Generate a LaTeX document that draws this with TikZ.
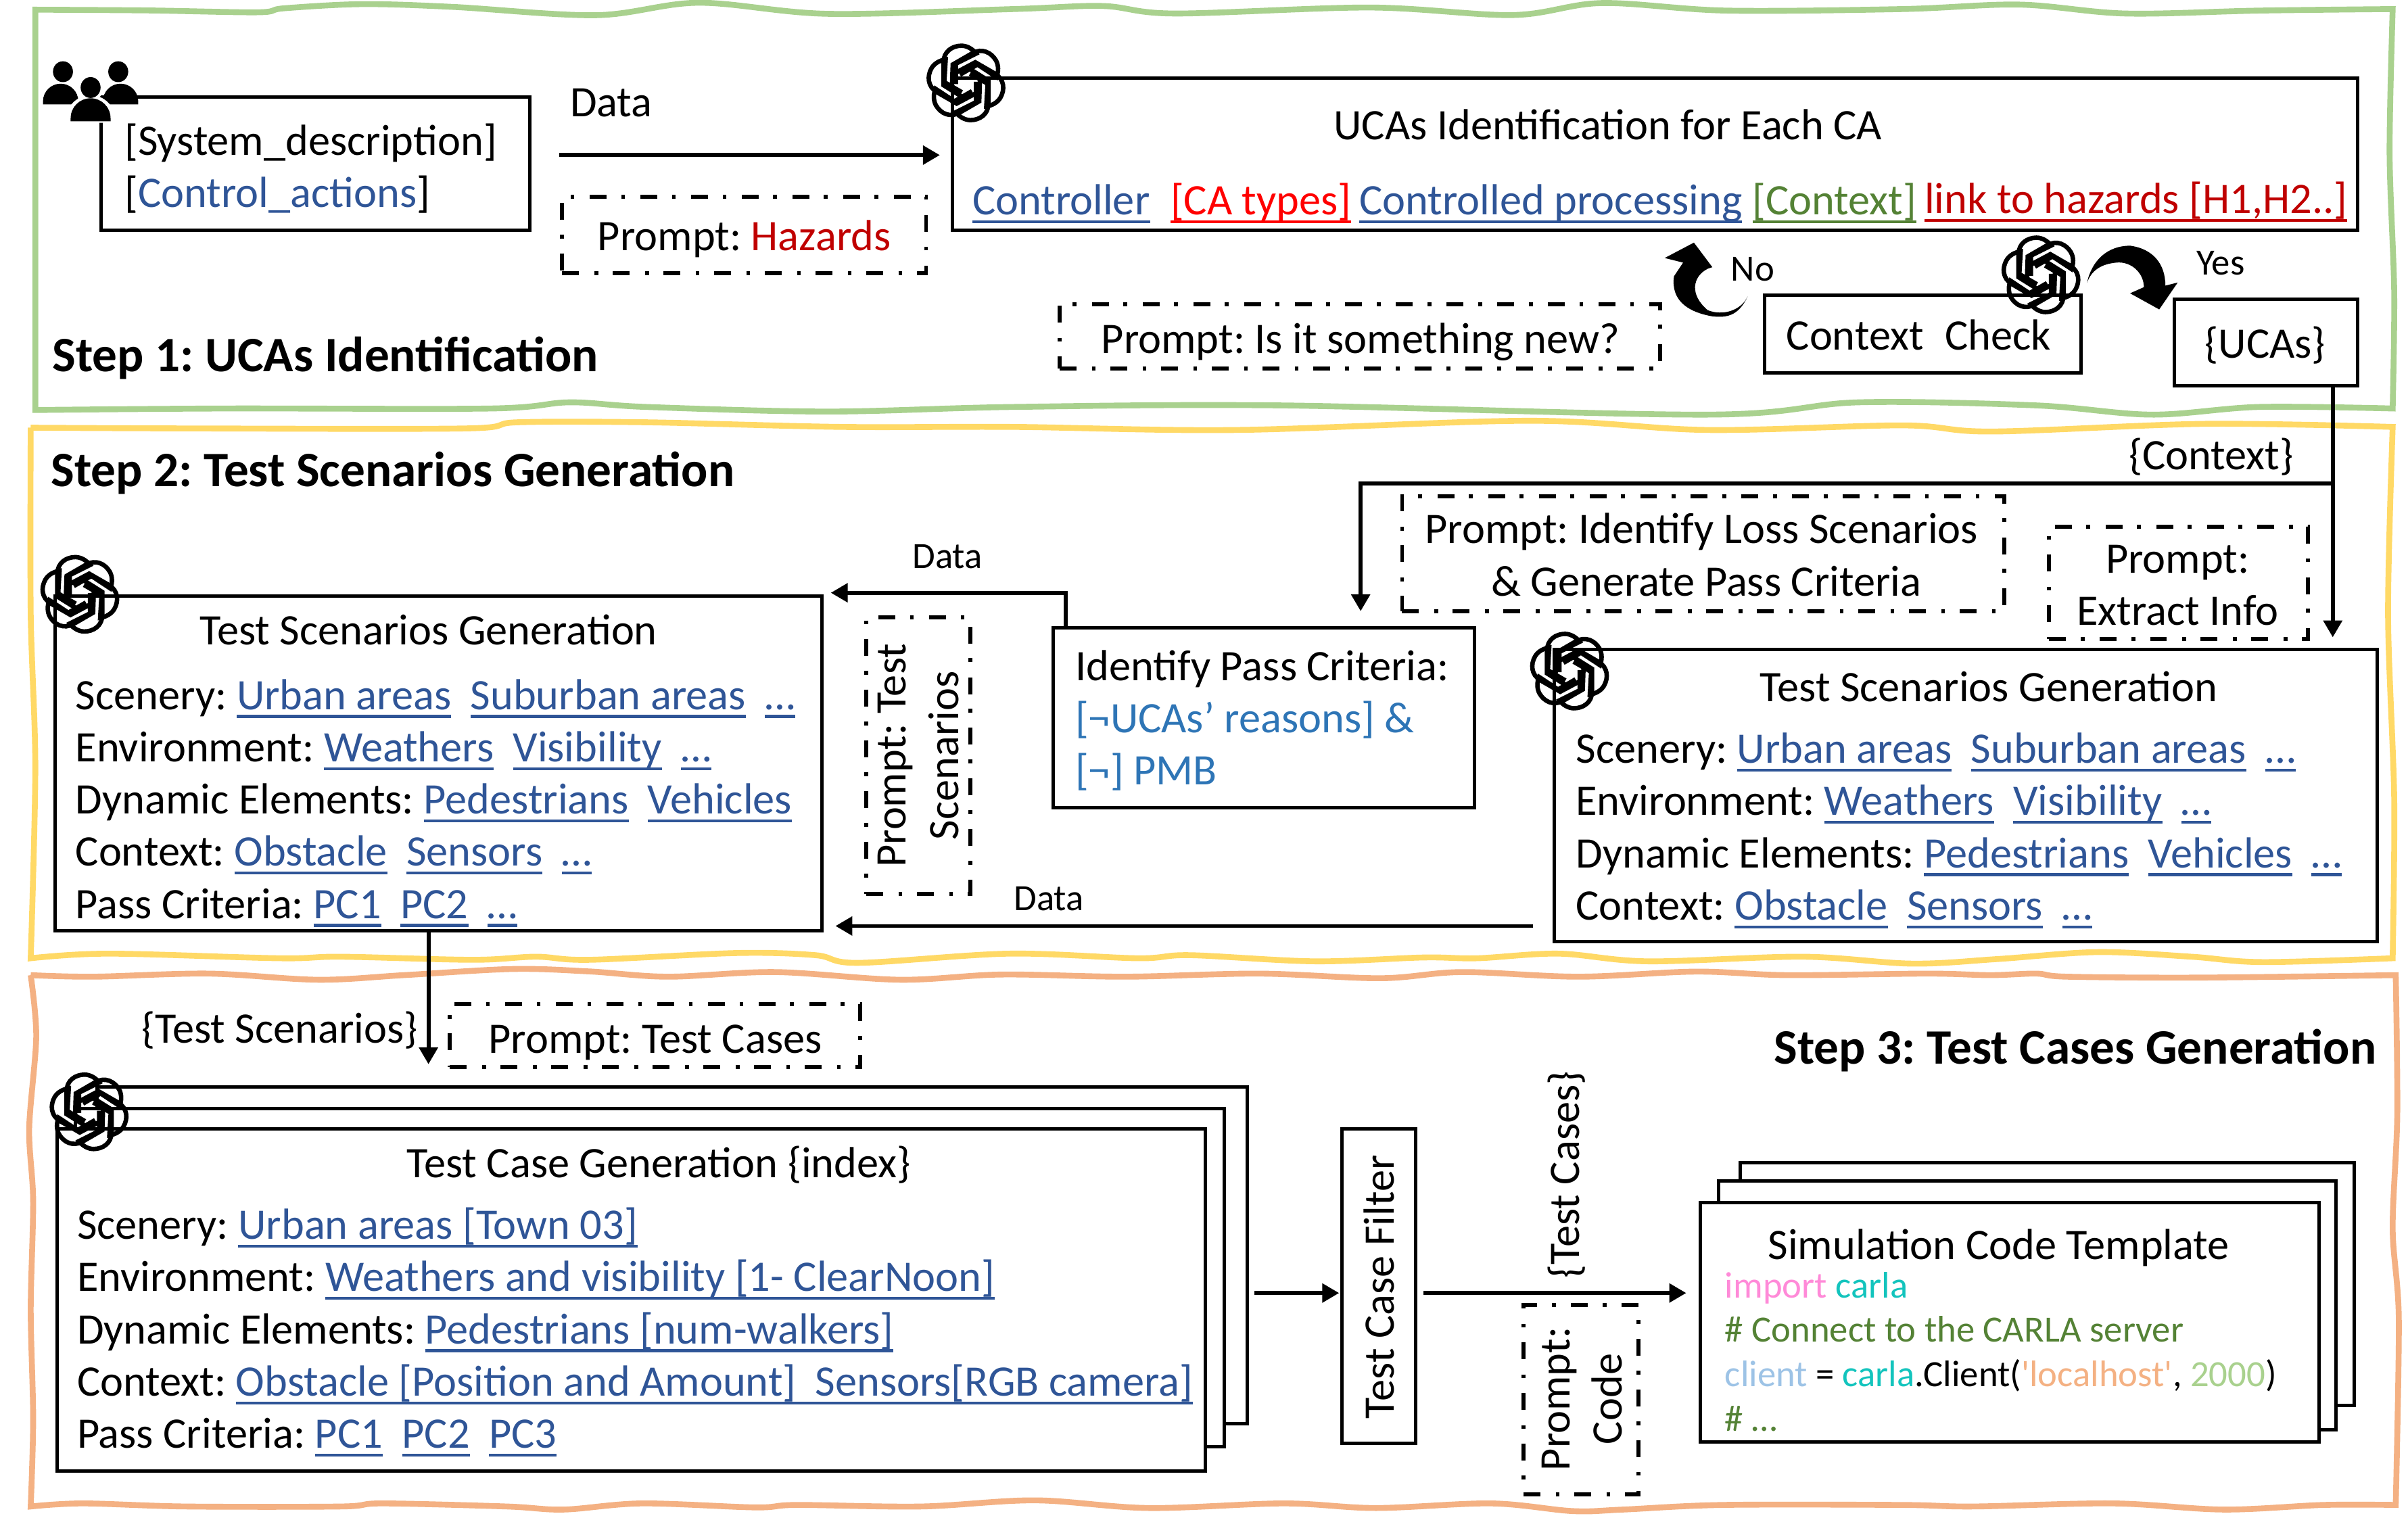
\documentclass[tikz,border=0pt]{standalone}
\usepackage{fontspec}
\setmainfont{Carlito}
\usetikzlibrary{arrows.meta,calc}
\frenchspacing
\newsavebox\ulbox
\newcommand{\myul}[1]{\sbox\ulbox{#1}\rlap{\rule[-5.5pt]{\wd\ulbox}{1.9pt}}\usebox\ulbox}
\definecolor{ublue}{HTML}{2F5597}
\definecolor{bblue}{HTML}{2E75B6}
\definecolor{dred}{HTML}{C00000}
\definecolor{cgreen}{HTML}{548235}
\definecolor{fgreen}{HTML}{A9D18E}
\definecolor{fyellow}{HTML}{FFD966}
\definecolor{forange}{HTML}{F4B183}
\definecolor{cpink}{HTML}{FF8AD8}
\definecolor{cteal}{HTML}{13C4BD}
\definecolor{clight}{HTML}{9DC3E6}
\newcommand{\ub}[1]{\textcolor{ublue}{\myul{#1}}}
\newcommand{\uc}[2]{\textcolor{#1}{\myul{#2}}}
\newcommand{\gp}{\hspace{12.5pt}}
\newcommand{\mybox}[6]{%
  \pgfmathsetmacro\bcx{(#3+#5)/2}\pgfmathsetmacro\bcy{(#4+#6)/2}%
  \pgfmathsetmacro\bw{#5-#3}\pgfmathsetmacro\bh{#6-#4}%
  \node[#1,minimum width=\bw pt,minimum height=\bh pt] (#2) at (\bcx,\bcy) {};}
\tikzset{
  x=1pt,y=-1pt,
  bx/.style={draw=black,line width=2.2pt,inner sep=0pt,outer sep=0pt,fill=white},
  pr/.style={draw=black,line width=2.6pt,inner sep=0pt,outer sep=0pt,
     dash pattern=on 11pt off 10pt on 2.5pt off 9.5pt},
  tx/.style={anchor=base west,inner sep=0pt,yshift=-1pt,font=\fontsize{28.35}{33}\selectfont},
  tc/.style={anchor=base,inner sep=0pt,yshift=-1pt,font=\fontsize{28.35}{33}\selectfont},
  tr/.style={anchor=center,inner sep=0pt,rotate=90,align=center,font=\fontsize{28.35}{34}\selectfont},
  sm/.style={anchor=base west,inner sep=0pt,font=\fontsize{24.1}{28}\selectfont},
  tb/.style={anchor=base west,inner sep=0pt,yshift=-1pt,font=\fontsize{32.25}{38}\bfseries\selectfont},
  fr/.style={line width=3.8pt,line join=miter},
  arr/.style={draw=black,line width=2.6pt,-{Triangle[length=11pt,width=12pt]}},
  logo/.pic={
    \foreach \a in {0,60,...,300}{
      \draw[rotate=\a,scale=.1468,line width=2.9pt,line join=miter]
        (-20,60) -- (-100,10) -- (-100,-90)
        .. controls (-100,-140) and (-60,-165) .. (-20,-165)
        .. controls (5,-165) and (30,-150) .. (45,-130)
        -- (-45,-85) -- (-45,5);
    }
  },
}
\begin{document}
\begin{tikzpicture}
\useasboundingbox (0,0) rectangle (1568,987);
\fill[white] (0,0) rectangle (1568,987);
% frames
\draw[fr,fgreen] plot[smooth,tension=.55] coordinates {(23,6.3)(97,6.8)(168,8)(185,5.4)(236,2.7)(295,4.5)(388,9.9)(455,1.8)(539,9)(660,5.9)(718,3.9)(765,8.8)(892,4.9)(985,9.8)(1043,2)(1124,6.9)(1239,5.9)(1315,3)(1384,8.8)(1471,6.9)(1558,5.9)}
  -- plot[smooth,tension=.5] coordinates {(1558,5.9)(1556,100)(1559,190)(1558,266)}
  -- plot[smooth,tension=.55] coordinates {(1558,266)(1471,265)(1401,270)(1326,264)(1210,262)(1112,270)(834,264)(660,265)(539,268)(421,265)(371,262)(320,266)(147,266)(23,267)}
  -- cycle;
\draw[fr,fyellow] plot[smooth,tension=.55] coordinates {(20,278.5)(126,279)(303,279)(337,275)(421,275)(548,278)(660,278)(805,280)(996,274)(1112,280)(1239,277)(1297,281)(1436,276)(1558,278)}
  -- plot[smooth,tension=.5] coordinates {(1558,278)(1555,400)(1559,520)(1558,624)}
  -- plot[smooth,tension=.55] coordinates {(1558,624)(1473,626.5)(1427,623)(1366,620)(1301,624.5)(1245,627.5)(1174,623)(1073,626)(1015,621)(962,624)(927,623.5)(856,626)(775,622)(741,624)(657,621)(559,627)(531,622)(480,620.6)(384,625)(349,623)(308,625)(222,623)(182,624)(71,621)(20,624)}
  -- plot[smooth,tension=.5] coordinates {(20,624)(23,500)(20,400)(20,278.5)};
\draw[fr,forange] plot[smooth,tension=.55] coordinates {(20,635)(61,636)(136,634)(207,638)(263,635)(334,631)(384,632.6)(435,636)(505,633)(586,638)(652,634.6)(733,636)(820,634)(899,637)(952,633)(1028,636)(1104,632.7)(1164,635)(1255,634)(1296,635)(1326,634)(1346,636)(1432,636.6)(1560,635)}
  -- plot[smooth,tension=.5] coordinates {(1560,635)(1561,726)(1558,800)(1562,859)(1560,980)}
  -- plot[smooth,tension=.55] coordinates {(1560,980)(1513,980)(1448,983)(1376,979)(1285,981)(1238,980)(1122,980)(1057,983)(1024,984)(971,979)(896,982)(836,979)(748,982)(674,977)(600,981)(519,980)(492,981.6)(418,979)(367,983)(330,981)(249,979)(222,981)(121,981)(54,979)(20,981)}
  -- plot[smooth,tension=.5] coordinates {(20,981)(21.6,924)(20,853)(21.6,782)(19,735)(23.6,675)(20,635)};
% boxes
\mybox{bx}{sys}{66}{63}{345}{150}
\mybox{bx}{uca}{620}{51}{1535}{150}
\mybox{bx}{cc}{1149}{192}{1355}{243}
\mybox{bx}{ucas}{1416}{195}{1535}{251}
\mybox{bx}{tsl}{36}{388}{535}{606}
\mybox{bx}{tsr}{1012}{423}{1548}{613}
\mybox{bx}{ipc}{686}{409}{960}{526}
\mybox{bx}{tc3}{63}{708}{812}{927}
\mybox{bx}{tc2}{49}{722}{797}{942}
\mybox{bx}{tc1}{37}{735}{785}{958}
\mybox{bx}{filt}{874}{735}{922}{940}
\mybox{bx}{sim3}{1133}{757}{1533}{915}
\mybox{bx}{sim2}{1119}{769}{1521}{931}
\mybox{bx}{sim1}{1107}{783}{1510}{939}
\mybox{pr}{pa}{366}{128}{603}{178}
\mybox{pr}{pb}{690}{198}{1081}{240}
\mybox{pr}{pc}{913}{323}{1305}{398}
\mybox{pr}{pd}{1334}{343}{1503}{416}
\mybox{pr}{pe}{564}{402}{632}{582}
\mybox{pr}{pf}{293}{654}{560}{695}
\mybox{pr}{pg}{992}{850}{1067}{973}
% connectors
\coordinate (s1) at (364,101);
\coordinate (j) at (1519,315);
\coordinate (c2) at (886,315);
\coordinate (c3) at (694,386);
\coordinate (c4) at (998,603);
\coordinate (c5) at (279,650);
\coordinate (c6) at (900,842);
\draw[arr,shorten >=8pt] (s1) -- (uca.west |- s1);
\draw[arr,shorten >=8pt] (ucas.south -| j) -- (tsr.north -| j);
\draw[arr,shorten >=11pt] (j) -- (c2) -- (ipc.north -| c2);
\draw[arr,shorten >=6pt] (ipc.north -| c3) -- (c3) -- (tsl.east |- c3);
\draw[arr,shorten <=14pt,shorten >=9pt] (tsr.west |- c4) -- (tsl.east |- c4);
\draw[arr,shorten >=15pt] (tsl.south -| c5) -- (tc3.north -| c5);
\draw[arr,shorten <=5pt,shorten >=2pt] (tc3.east |- c6) -- (filt.west |- c6);
\draw[arr,shorten <=5pt,shorten >=9pt] (filt.east |- c6) -- (sim1.west |- c6);
% curved arrows
\fill[black] (1138,193) .. controls (1132,206) and (1124,207) .. (1115,206)
  .. controls (1098,203) and (1088,195) .. (1090,180) -- (1096,171) -- (1084,168) -- (1103,158) -- (1115,174) -- (1112,175)
  .. controls (1102,180) and (1100,192) .. (1112,202) .. controls (1122,206) and (1134,202) .. (1138,193) -- cycle;
\fill[black] (1359,184) .. controls (1362,170) and (1372,160) .. (1387,160)
  .. controls (1402,162) and (1410,172) .. (1410,186) -- (1418,184) -- (1406,201.5) -- (1387,191) -- (1396,187)
  .. controls (1396,178) and (1388,170) .. (1378,171) .. controls (1368,172) and (1362,176) .. (1359,184) -- cycle;
% users icon
\fill[black] (41,46.7) ellipse (6.5 and 6.8) (77,46.7) ellipse (6.5 and 6.8);
\fill[black] (28,68) -- (28,66) arc[start angle=180,end angle=360,radius=11.5] -- (51,68) -- cycle;
\fill[black] (67,68) -- (67,66) arc[start angle=180,end angle=360,radius=11.5] -- (90,68) -- cycle;
\fill[white] (59,57) ellipse (8.5 and 8.5);
\fill[white] (43,80) -- (43,78) arc[start angle=180,end angle=360,radius=16] -- (75,80) -- cycle;
\fill[black] (59,57) ellipse (6.5 and 6.8);
\fill[black] (46,79) -- (46,77) arc[start angle=180,end angle=360,radius=13] -- (72,79) -- cycle;
% step titles
\node[tb] (st1) at (34,241) {Step 1: UCAs Identification};
\node[tb] (st2) at (33,316) {Step 2: Test Scenarios Generation};
\node[tb] (st3) at (1155,692) {Step 3: Test Cases Generation};
% step 1 text
\node[tx] (l1) at (81,100) {[System\_description]};
\node[tx] (l2) at (81,134) {[\textcolor{ublue}{Control\_actions}]};
\node[tx] (l3) at (371,75) {Data};
\node[tx] (l4) at (389,162) {Prompt: \textcolor{dred}{Hazards}};
\node[tc] (l5) at (1047,90) {UCAs Identification for Each CA};
\node[tx] (l6) at (633,139) {\ub{Controller}};
\node[tx] (l7) at (762,139) {\uc{red}{[CA types]}};
\node[tx] (l8) at (885,139) {\ub{Controlled processing}};
\node[tx] (l9) at (1141,139) {\uc{cgreen}{[Context]}};
\node[tx] (l10) at (1253,138) {\uc{dred}{link to hazards [H1,H2..]}};
\node[tx] (l11) at (717,229) {Prompt: Is it something new?};
\node[tx] (l12) at (1163,227) {Context\hspace{14pt}Check};
\node[tc] (l13) at (1475,232) {\{UCAs\}};
\node[sm] (l14) at (1127,183) {No};
\node[sm] (l15) at (1430,179) {Yes};
% step 2 text
\node[tx] (m1) at (1386,305) {\{Context\}};
\node[tc] (m2) at (1108,353) {Prompt: Identify Loss Scenarios};
\node[tc] (m3) at (1111,387) {\& Generate Pass Criteria};
\node[tc] (m4) at (1418,372) {Prompt:};
\node[tc] (m5) at (1418,406) {Extract Info};
\node[sm] (m6) at (594,370) {Data};
\node[sm] (m7) at (660,593) {Data};
\node[tr] (m8) at (598,492) {Prompt: Test\\Scenarios};
\node[tx] (m9) at (700,442) {Identify Pass Criteria:};
\node[tx] (m10) at (700,476) {\textcolor{bblue}{[¬UCAs’ reasons] \&}};
\node[tx] (m11) at (700,510) {\textcolor{bblue}{[¬] PMB}};
\node[tc] (a0) at (279,419) {Test Scenarios Generation};
\node[tx] (a1) at (49,461) {Scenery: \ub{Urban areas}\gp\ub{Suburban areas}\gp\ub{…}};
\node[tx] (a2) at (49,495) {Environment: \ub{Weathers}\gp\ub{Visibility}\gp\ub{…}};
\node[tx] (a3) at (49,529) {Dynamic Elements: \ub{Pedestrians}\gp\ub{Vehicles}};
\node[tx] (a4) at (49,563) {Context: \ub{Obstacle}\gp\ub{Sensors}\gp\ub{…}};
\node[tx] (a5) at (49,597) {Pass Criteria: \ub{PC1}\gp\ub{PC2}\gp\ub{…}};
\node[tc] (b0) at (1295,456) {Test Scenarios Generation};
\node[tx] (b1) at (1026,496) {Scenery: \ub{Urban areas}\gp\ub{Suburban areas}\gp\ub{…}};
\node[tx] (b2) at (1026,530) {Environment: \ub{Weathers}\gp\ub{Visibility}\gp\ub{…}};
\node[tx] (b3) at (1026,564) {Dynamic Elements: \ub{Pedestrians}\gp\ub{Vehicles}\gp\ub{…}};
\node[tx] (b4) at (1026,598) {Context: \ub{Obstacle}\gp\ub{Sensors}\gp\ub{…}};
% step 3 text
\node[tx] (n1) at (92,678) {\{Test Scenarios\}};
\node[tx] (n2) at (318,685) {Prompt: Test Cases};
\node[tc] (c0) at (429,766) {Test Case Generation \{index\}};
\node[tx] (c1) at (50,806) {Scenery: \ub{Urban areas [Town 03]}};
\node[tx] (c7) at (50,840) {Environment: \ub{Weathers and visibility [1- ClearNoon]}};
\node[tx] (c8) at (50,874) {Dynamic Elements: \ub{Pedestrians [num-walkers]}};
\node[tx] (c9) at (50,908) {Context: \ub{Obstacle [Position and Amount]\hspace{12.5pt}Sensors[RGB camera]}};
\node[tx] (c10) at (50,942) {Pass Criteria: \ub{PC1}\gp\ub{PC2}\gp\ub{PC3}};
\node[tr] (n3) at (898,838) {Test Case Filter};
\node[tr] (n4) at (1020,765) {\{Test Cases\}};
\node[tr] (n5) at (1030,911) {Prompt:\\Code};
\node[tx] (d0) at (1151,819) {Simulation Code Template};
\node[sm] (d1) at (1123,845) {\textcolor{cpink}{import} \textcolor{cteal}{carla}};
\node[sm] (d2) at (1123,874) {\textcolor{cgreen}{\# Connect to the CARLA server}};
\node[sm] (d3) at (1123,903) {\textcolor{clight}{client} = \textcolor{cteal}{carla}.Client(\textcolor{forange}{\textquotesingle localhost\textquotesingle}, \textcolor{fgreen}{2000})};
\node[sm] (d4) at (1123,932) {\textcolor{cgreen}{\# …}};
% logos
\pic at (629,54) {logo};
\pic at (1329,179) {logo};
\pic at (52,387) {logo};
\pic at (1022,437) {logo};
\pic at (58,724) {logo};
\end{tikzpicture}
\end{document}
